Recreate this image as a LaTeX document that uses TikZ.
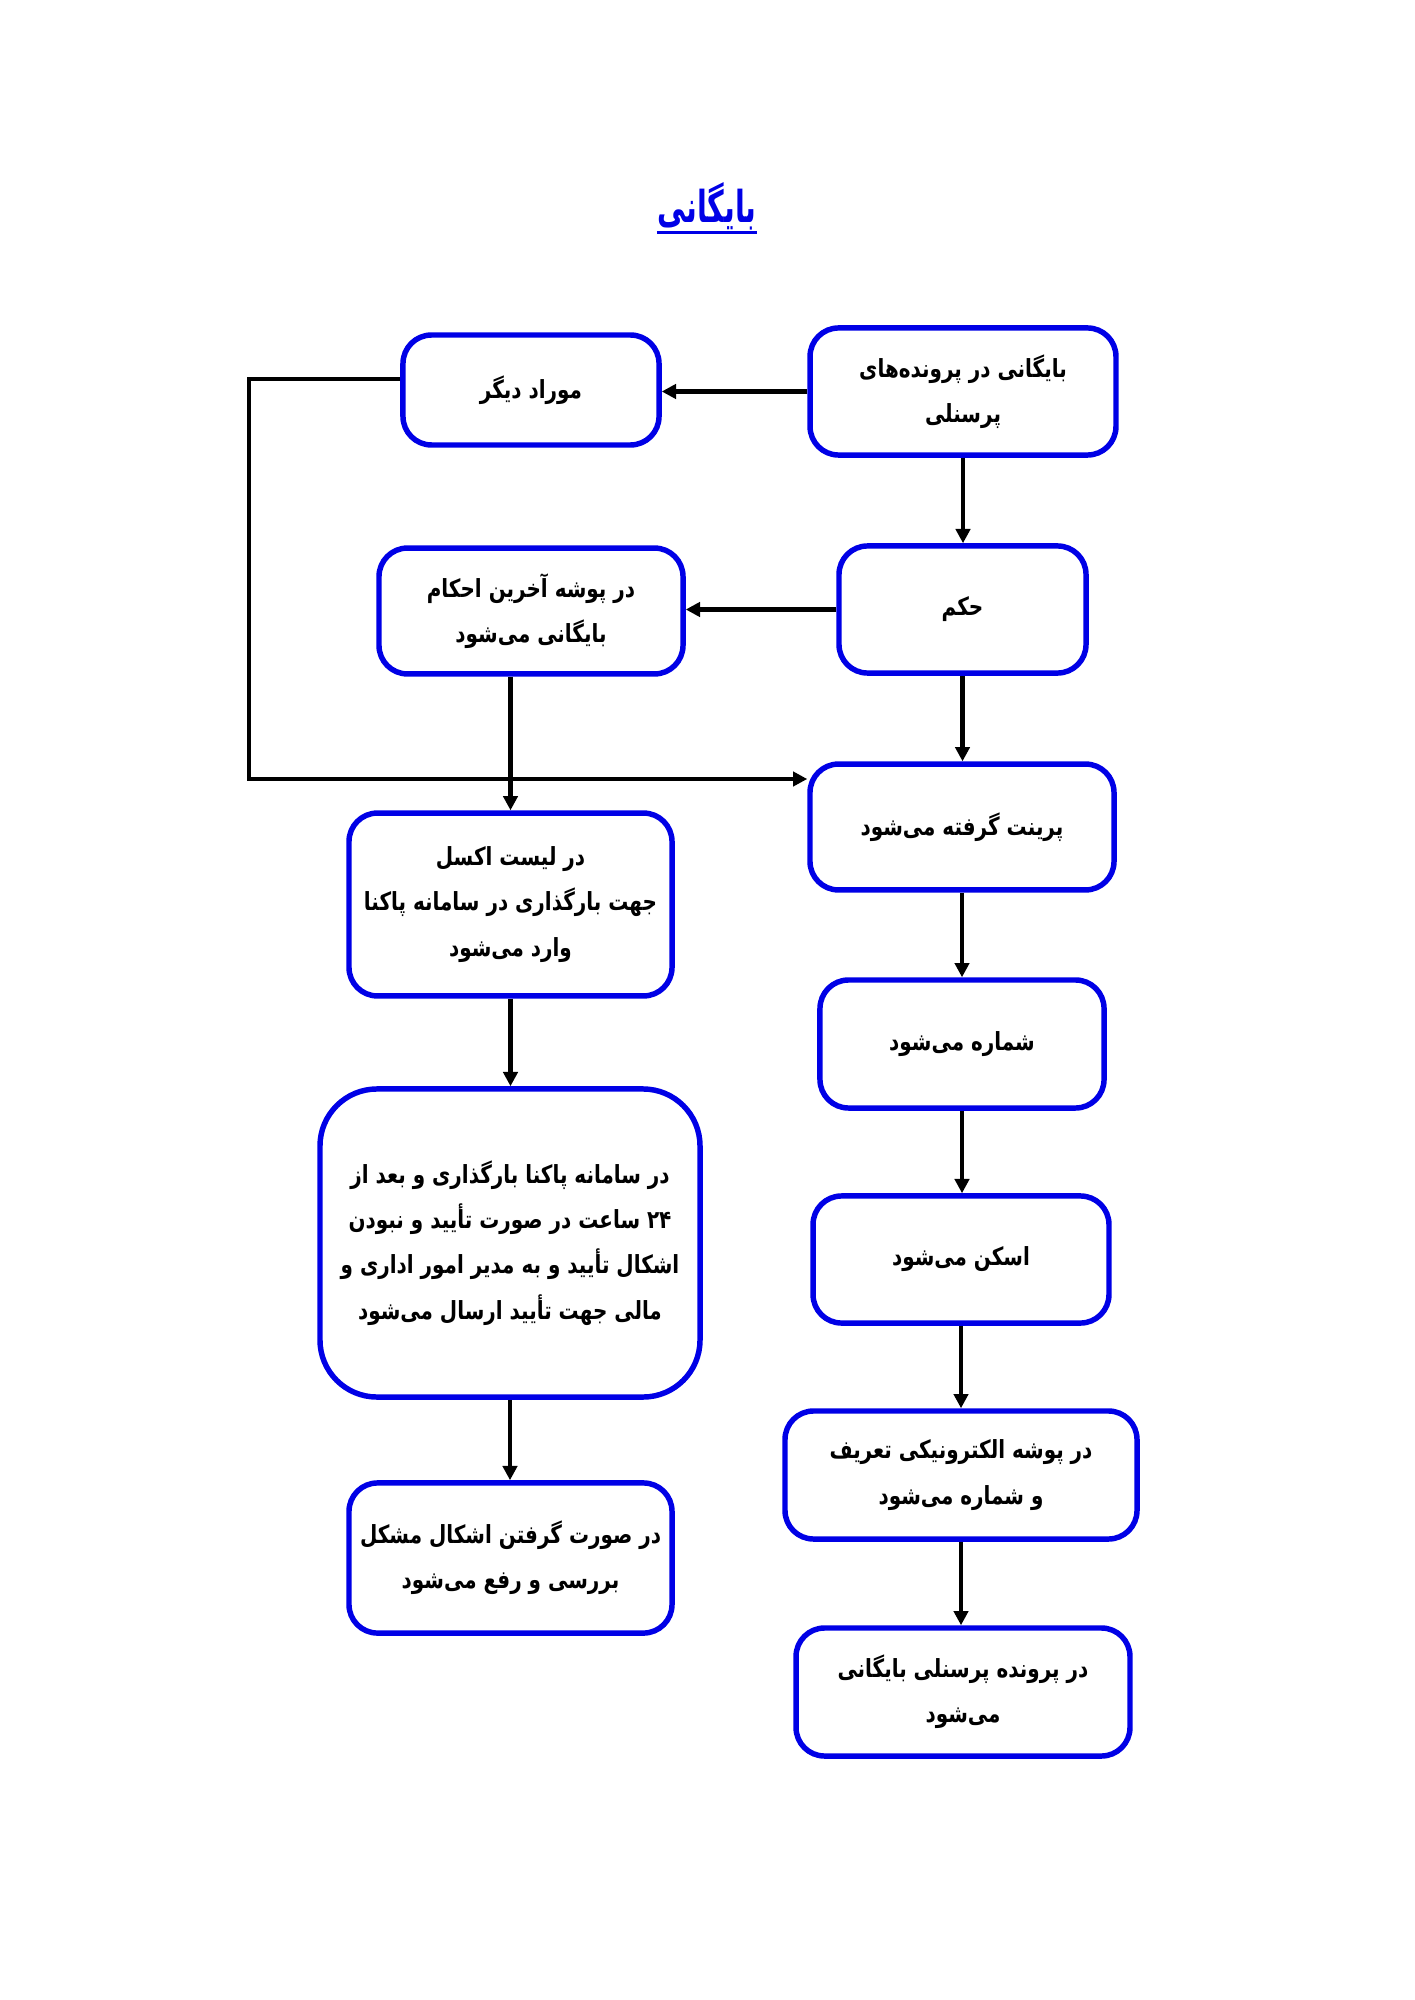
\documentclass[tikz,border=0pt]{standalone}
\usepackage{fontspec}
\usetikzlibrary{arrows.meta}
\TeXXeTstate=1
\newfontfamily\arabicfont[Script=Arabic, FakeStretch=0.8]{DejaVu Sans}
\newfontfamily\titlefont[Script=Arabic, FakeStretch=0.65]{DejaVu Sans}
\newcommand{\rtl}[1]{\beginR #1\endR}
\definecolor{boxblue}{RGB}{0,0,230}
\begin{document}
\begin{tikzpicture}[x=0.421pt,y=-0.421pt,
  box/.style={draw=boxblue, line width=2.3pt, rounded corners=12pt, fill=white,
    align=center, font=\arabicfont\bfseries\fontsize{10.5}{19}\selectfont, inner sep=2pt},
  conn/.style={line width=2pt, -{Triangle[length=6pt,width=6pt]}}]
\useasboundingbox[fill=white] (0,0) rectangle (1414,2000);

\node[font=\titlefont\bfseries\fontsize{18.5}{22}\selectfont, text=boxblue, inner sep=0pt] (T) at (707,206) {\rtl{بایگانی}};
\draw[boxblue, line width=1.3pt] ([yshift=-1pt]T.south west) -- ([yshift=-1pt]T.south east);

\node[box, minimum width=128.8pt, minimum height=53.5pt] (A) at (963,391.5) {\rtl{بایگانی در پرونده‌های}\\\rtl{پرسنلی}};
\node[box, minimum width=107.8pt, minimum height=46.3pt] (B) at (531,390) {\rtl{موراد دیگر}};
\node[box, minimum width=104pt, minimum height=53.5pt] (C) at (962.5,609.5) {\rtl{حکم}};
\node[box, minimum width=128pt, minimum height=53pt] (D) at (531,611) {\rtl{در پوشه آخرین احکام}\\\rtl{بایگانی می‌شود}};
\node[box, minimum width=128pt, minimum height=53pt] (E) at (962,827) {\rtl{پرینت گرفته می‌شود}};
\node[box, minimum width=136pt, minimum height=77pt] (F) at (510.5,904.5) {\rtl{در لیست اکسل}\\\rtl{جهت بارگذاری در سامانه پاکنا}\\\rtl{وارد می‌شود}};
\node[box, minimum width=119.6pt, minimum height=53.9pt] (G) at (962,1044) {\rtl{شماره می‌شود}};
\node[box, rounded corners=24pt, minimum width=160pt, minimum height=129.7pt] (H) at (510,1243) {\rtl{در سامانه پاکنا بارگذاری و بعد از}\\\rtl{۲۴ ساعت در صورت تأیید و نبودن}\\\rtl{اشکال تأیید و به مدیر امور اداری و}\\\rtl{مالی جهت تأیید ارسال می‌شود}};
\node[box, minimum width=124.6pt, minimum height=53.5pt] (I) at (961,1259.5) {\rtl{اسکن می‌شود}};
\node[box, minimum width=148.2pt, minimum height=53.9pt] (J) at (961,1475) {\rtl{در پوشه الکترونیکی تعریف}\\\rtl{و شماره می‌شود}};
\node[box, minimum width=136pt, minimum height=63.2pt] (K) at (510.5,1558) {\rtl{در صورت گرفتن اشکال مشکل}\\\rtl{بررسی و رفع می‌شود}};
\node[box, minimum width=140.6pt, minimum height=53.9pt] (L) at (963,1692) {\rtl{در پرونده پرسنلی بایگانی}\\\rtl{می‌شود}};

\coordinate (bl) at (249,379);
\coordinate (bd) at (249,779);

\draw[conn] (A.west) -- (A.west -| B.east);
\draw[conn] (A.south) -- (A.south |- C.north);
\draw[conn] (C.west) -- (C.west -| D.east);
\draw[conn] (C.south) -- (C.south |- E.north);
\draw[conn] (F.north |- D.south) -- (F.north);
\draw[conn] (B.west |- bl) -- (bl) -- (bd) -- (bd -| E.west);
\draw[conn] (F.south) -- (F.south |- H.north);
\draw[conn] (H.south) -- (H.south |- K.north);
\draw[conn] (E.south) -- (E.south |- G.north);
\draw[conn] (G.south) -- (G.south |- I.north);
\draw[conn] (I.south) -- (I.south |- J.north);
\draw[conn] (J.south) -- (J.south |- L.north);
\end{tikzpicture}
\end{document}
